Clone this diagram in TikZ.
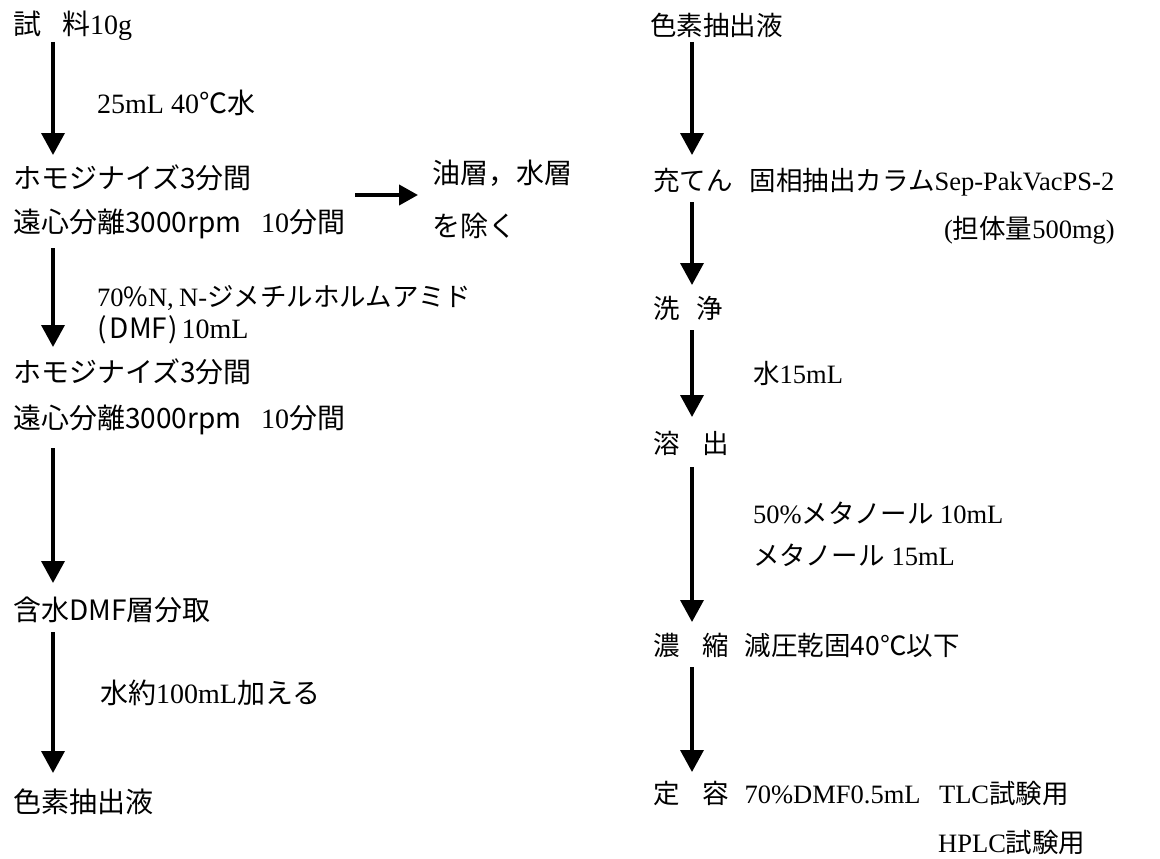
\documentclass[tikz,border=0pt]{standalone}
\usepackage{fontspec}
\setmainfont{Liberation Serif}
\newfontfamily\jp{Noto Sans CJK JP}
\newcommand\J[1]{{\jp #1}}
\usetikzlibrary{arrows.meta}
\tikzset{
  txt/.style={anchor=west,inner sep=0pt,font=\fontsize{26.5}{31}\selectfont},
  big/.style={font=\fontsize{28}{32}\selectfont},
  flow/.style={line width=3.6pt,-{Triangle[width=23pt,length=22pt]}},
  side/.style={line width=4pt,-{Triangle[width=20pt,length=19pt]}}
}
\begin{document}
\begin{tikzpicture}[x=1pt,y=-1pt]
\useasboundingbox (0,0) rectangle (1160,859);
% left column
\node[txt,big] (L1) at (13,26) {\J{試}\hspace{0.75em}\J{料}10g};
\node[txt,big] (La1) at (97,103) {25mL 40\J{℃水}};
\node[txt,big] (L2) at (13,178) {\J{ホモジナイズ3分間}};
\node[txt,big] (L3) at (13,224) {\J{遠心分離3000rpm}\hspace{0.7em}10\J{分間}};
\node[txt,big] (Lr1) at (432,173) {\J{油層，水層}};
\node[txt,big] (Lr2) at (432,226) {\J{を除く}};
\node[txt] (La2) at (97,298) {70\J{\%}N,\hspace{0.2em}N-\J{ジメチルホルムアミド}};
\node[txt,big] (La3) at (97,330) {\J{(\hspace{0.12em}DMF\hspace{0.05em})}\hspace{0.12em}10mL};
\node[txt,big] (L4) at (13,372) {\J{ホモジナイズ3分間}};
\node[txt,big] (L5) at (13,420) {\J{遠心分離3000rpm}\hspace{0.7em}10\J{分間}};
\node[txt,big] (L6) at (13,610) {\J{含水DMF層分取}};
\node[txt,big] (La4) at (100,693) {\J{水約}100mL\J{加える}};
\node[txt,big] (L7) at (13,802) {\J{色素抽出液}};
% right column
\node[txt] (R1) at (650,25) {\J{色素抽出液}};
\node[txt] (R2) at (653,182) {\J{充てん}\hspace{0.65em}\J{固相抽出カラム}Sep-PakVacPS-2};
\node[txt,anchor=east] (R2b) at (1115,230) {(\J{担体量}500mg)};
\node[txt] (R3) at (653,308) {\J{洗}\hspace{0.65em}\J{浄}};
\node[txt] (Ra3) at (753,373) {\J{水}15mL};
\node[txt] (R4) at (653,443) {\J{溶}\hspace{0.85em}\J{出}};
\node[txt] (Ra4a) at (753,513) {50\%\J{メタノール} 10mL};
\node[txt] (Ra4b) at (753,555) {\J{メタノール} 15mL};
\node[txt] (R5) at (653,645) {\J{濃}\hspace{0.85em}\J{縮}\hspace{0.6em}\J{減圧乾固40℃以下}};
\node[txt] (R6) at (653,793) {\J{定}\hspace{0.85em}\J{容}\hspace{0.6em}70\%DMF0.5mL\hspace{0.7em}TLC\J{試験用}};
\node[txt] (R6b) at (938,843) {HPLC\J{試験用}};
% arrow end points
\coordinate (a1s) at (53,42);  \coordinate (a1e) at (53,155);
\coordinate (a2s) at (53,248); \coordinate (a2e) at (53,347);
\coordinate (a3s) at (53,448); \coordinate (a3e) at (53,583);
\coordinate (a4s) at (53,632); \coordinate (a4e) at (53,773);
\coordinate (b1s) at (692,42);  \coordinate (b1e) at (692,155);
\coordinate (b2s) at (692,202); \coordinate (b2e) at (692,285);
\coordinate (b3s) at (692,330); \coordinate (b3e) at (692,417);
\coordinate (b4s) at (692,467); \coordinate (b4e) at (692,622);
\coordinate (b5s) at (692,667); \coordinate (b5e) at (692,772);
\coordinate (hs) at (355,195); \coordinate (he) at (418,195);
\draw[flow] (a1s) -- (a1e);
\draw[flow] (a2s) -- (a2e);
\draw[flow] (a3s) -- (a3e);
\draw[flow] (a4s) -- (a4e);
\draw[flow] (b1s) -- (b1e);
\draw[flow] (b2s) -- (b2e);
\draw[flow] (b3s) -- (b3e);
\draw[flow] (b4s) -- (b4e);
\draw[flow] (b5s) -- (b5e);
\draw[side] (hs) -- (he);
\end{tikzpicture}
\end{document}
